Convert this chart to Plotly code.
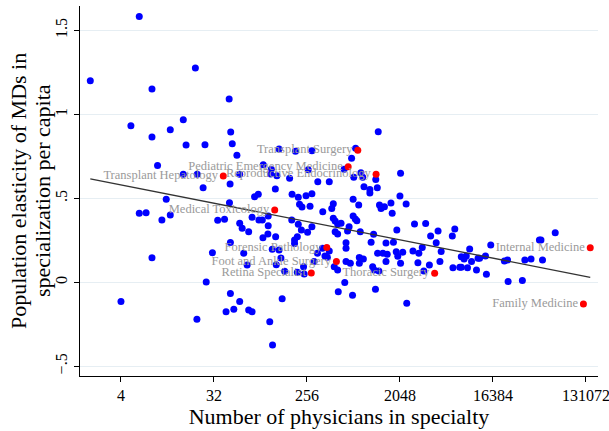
import plotly.graph_objects as go

# log2 of number of physicians in specialty, and population elasticity (unlabelled specialties)
log2_physicians = [
    2.59, 1.01, 4.40, 3.00, 4.01, 2.32, 3.59, 3.00, 4.10, 4.71,
    3.18, 4.01, 4.46, 4.65, 3.46, 2.59, 2.81, 3.59, 3.32, 5.12,
    5.34, 3.00, 4.95, 4.75, 2.00, 4.45, 5.49, 5.54, 5.59, 5.74,
    5.52, 5.83, 6.59, 7.10, 7.63, 8.16, 6.85, 6.83, 7.03, 7.44,
    6.98, 6.31, 6.43, 7.52, 7.72, 8.04, 8.35, 8.72, 7.97, 8.16,
    5.50, 7.76, 7.84, 8.10, 8.51, 8.85, 8.80, 6.23, 6.45, 6.56,
    6.75, 10.30, 9.57, 9.44, 9.20, 9.74, 9.51, 9.80, 10.22, 11.02,
    9.84, 10.03, 10.03, 10.27, 9.49, 9.67, 10.34, 10.39, 10.50, 10.71,
    10.75, 11.00, 11.20, 11.47, 11.83, 9.49, 9.56, 9.61, 8.85, 8.91,
    8.99, 9.10, 5.83, 5.91, 6.12, 6.58, 6.75, 6.74, 6.99, 7.51,
    7.72, 7.82, 8.02, 8.16, 7.69, 7.60, 7.60, 9.36, 9.31, 9.72,
    10.15, 10.90, 8.91, 8.99, 9.26, 9.26, 10.07, 10.55, 10.79, 11.99,
    12.23, 12.69, 12.77, 11.72, 12.17, 12.33, 10.28, 10.45, 10.59, 10.88,
    10.93, 11.09, 11.42, 11.61, 9.69, 9.82, 9.26, 9.40, 9.69, 10.55,
    11.02, 11.58, 11.95, 12.29, 12.71, 12.93, 10.12, 10.17, 10.32, 11.77,
    9.22, 10.21, 9.47, 11.22, 9.01, 8.88, 8.99, 8.23, 8.34, 8.50,
    8.58, 8.72, 8.66, 7.89, 7.91, 7.69, 7.28, 7.01, 7.16, 6.88,
    7.10, 5.96, 5.53, 6.07, 5.53, 5.83, 5.64, 5.39, 6.12, 6.23,
    7.20, 6.80, 6.89, 13.25, 13.14, 13.07, 12.98, 13.31, 13.52, 13.57,
    13.76, 12.98, 13.18, 13.47, 13.79, 14.37, 14.47, 15.03, 15.23, 15.60,
    14.49, 14.95, 16.01, 15.50, 15.55, 13.93,
]
elasticity = [
    1.583, 1.200, 1.276, 1.151, 0.968, 0.932, 0.908, 0.865, 0.817, 0.819,
    0.696, 0.643, 0.643, 0.563, 0.494, 0.411, 0.414, 0.401, 0.371, 0.369,
    0.375, 0.146, 0.176, 0.002, -0.115, -0.220, 1.091, 0.895, 0.825, 0.756,
    0.585, 0.643, 0.700, 0.793, 0.780, 0.783, 0.673, 0.645, 0.635, 0.619,
    0.555, 0.510, 0.524, 0.524, 0.506, 0.670, 0.599, 0.599, 0.515, 0.527,
    0.474, 0.464, 0.448, 0.452, 0.420, 0.468, 0.440, 0.387, 0.371, 0.371,
    0.395, 0.896, 0.798, 0.738, 0.673, 0.652, 0.625, 0.625, 0.612, 0.649,
    0.569, 0.552, 0.532, 0.563, 0.494, 0.460, 0.460, 0.440, 0.450, 0.472,
    0.411, 0.514, 0.466, 0.347, 0.350, 0.395, 0.377, 0.367, 0.381, 0.365,
    0.347, 0.351, 0.351, 0.321, 0.301, 0.265, 0.337, 0.287, 0.271, 0.371,
    0.345, 0.311, 0.298, 0.331, 0.271, 0.252, 0.231, 0.331, 0.305, 0.301,
    0.286, 0.311, 0.301, 0.287, 0.236, 0.202, 0.238, 0.234, 0.238, 0.276,
    0.305, 0.276, 0.317, 0.207, 0.236, 0.183, 0.173, 0.173, 0.167, 0.182,
    0.155, 0.179, 0.186, 0.173, 0.148, 0.139, 0.123, 0.113, 0.113, 0.123,
    0.113, 0.117, 0.103, 0.123, 0.087, 0.089, 0.093, 0.073, 0.067, 0.067,
    -0.002, -0.042, -0.077, -0.125, -0.056, 0.093, 0.073, 0.123, 0.173, 0.202,
    0.157, 0.186, 0.149, 0.093, 0.049, 0.060, 0.065, 0.105, 0.145, 0.196,
    0.192, 0.173, 0.237, 0.103, -0.067, -0.115, -0.161, -0.175, -0.165, -0.175,
    -0.098, -0.235, -0.373, 0.198, 0.157, 0.139, 0.152, 0.123, 0.143, 0.143,
    0.157, 0.089, 0.087, 0.073, 0.048, 0.127, 0.133, 0.133, 0.139, 0.133,
    0.004, 0.010, 0.295, 0.252, 0.252, 0.222,
]

# Highlighted specialties
label_names = [
    "Transplant Surgery", "Pediatric Emergency Medicine", "Reproductive Endocrinology",
    "Transplant Hepatology", "Medical Toxicology", "Forensic Pathology",
    "Foot and Ankle Surgery", "Retina Specialist", "Thoracic Surgery",
    "Internal Medicine", "Family Medicine",
]
label_log2 = [9.64, 9.33, 10.23, 5.30, 6.96, 8.64, 8.95, 8.14, 12.12, 17.14, 16.92]
label_elasticity = [0.786, 0.688, 0.643, 0.633, 0.430, 0.207, 0.123, 0.055, 0.054, 0.206, -0.129]

# Fitted line: elasticity = intercept + slope * log2(physicians)
fit_intercept = 0.652
fit_slope = -0.0363

x_ticks = [4, 32, 256, 2048, 16384, 131072]
x_tick_labels = ["4", "32", "256", "2048", "16384", "131072"]
y_ticks = [-0.5, 0, 0.5, 1, 1.5]
y_tick_labels = ["\u2212.5", "0", ".5", "1", "1.5"]
y_title_lines = ["Population elasticity of MDs in", "specialization per capita"]
x_title = "Number of physicians in specialty"

phys = [2 ** v for v in log2_physicians]
label_phys = [2 ** v for v in label_log2]
all_log2 = log2_physicians + label_log2
fit_l = [min(all_log2), max(all_log2)]
fit_x = [2 ** v for v in fit_l]
fit_y = [fit_intercept + fit_slope * v for v in fit_l]

serif = "Liberation Serif, Times New Roman, serif"

fig = go.Figure()
fig.add_trace(go.Scatter(
    x=phys, y=elasticity, mode="markers",
    marker=dict(color="#0000ff", size=7, line=dict(width=0)),
    showlegend=False, hoverinfo="skip",
))
fig.add_trace(go.Scatter(
    x=fit_x, y=fit_y, mode="lines",
    line=dict(color="#333333", width=1.3),
    showlegend=False, hoverinfo="skip",
))
fig.add_trace(go.Scatter(
    x=label_phys, y=label_elasticity, mode="markers+text",
    text=label_names, textposition="middle left",
    textfont=dict(family=serif, size=12.5, color="#9a9a9a"),
    marker=dict(color="#ff0000", size=7, line=dict(width=0)),
    showlegend=False, hoverinfo="skip",
))

# y-axis title as two rotated lines (tighter line spacing than Plotly's default)
plot_left, plot_w = 80, 518
for line_text, px in zip(y_title_lines, [18, 42]):
    fig.add_annotation(
        text=line_text, xref="paper", yref="paper",
        x=(px - plot_left) / plot_w, y=0.5, textangle=-90,
        showarrow=False, xanchor="center", yanchor="middle",
        font=dict(size=22, family=serif, color="black"),
    )

fig.update_layout(
    width=609, height=431,
    margin=dict(l=80, r=11, t=6, b=55, autoexpand=False),
    paper_bgcolor="white", plot_bgcolor="white",
    font=dict(family=serif, color="black"),
    xaxis=dict(
        type="log", range=[0.204, 5.235], automargin=False,
        tickvals=x_ticks, ticktext=x_tick_labels,
        tickfont=dict(size=16, family=serif, color="black"),
        ticklabeloverflow="allow",
        showgrid=False, zeroline=False,
        showline=True, linecolor="black", linewidth=1.3,
        ticks="outside", ticklen=5, tickcolor="black", tickwidth=1,
        title=dict(text=x_title,
                   font=dict(size=22, family=serif, color="black"), standoff=2),
    ),
    yaxis=dict(
        range=[-0.558, 1.645], automargin=False,
        tickvals=y_ticks, ticktext=y_tick_labels, tickangle=-90,
        tickfont=dict(size=16, family=serif, color="black"),
        showgrid=True, gridcolor="#e6eef3", gridwidth=1, zeroline=False,
        showline=True, linecolor="black", linewidth=1.3,
        ticks="outside", ticklen=5, tickcolor="black", tickwidth=1,
    ),
)

fig.write_html("out.html", config={"displayModeBar": False},
               post_script="document.body.style.margin='0';document.body.style.padding='0';")
